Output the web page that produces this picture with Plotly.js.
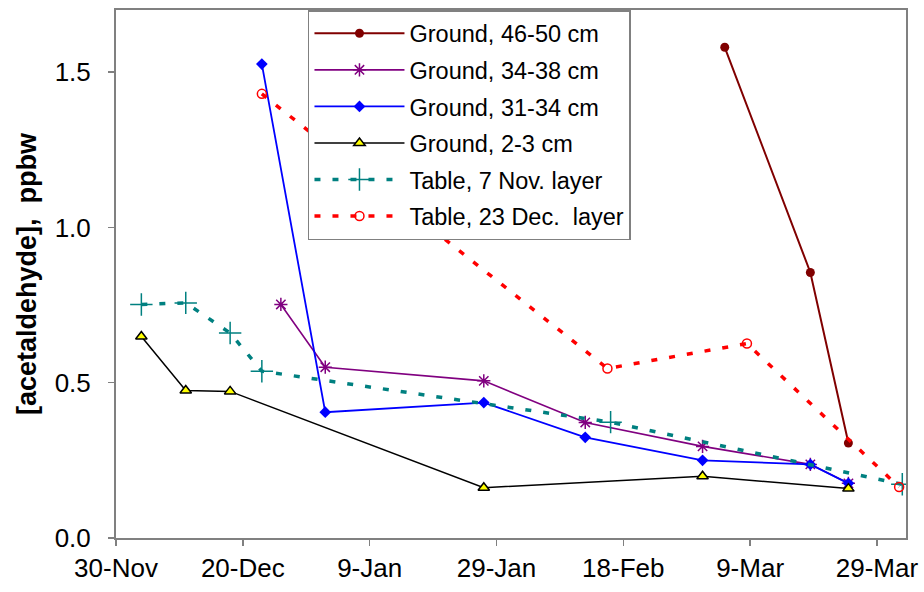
<!DOCTYPE html>
<html><head><meta charset="utf-8">
<script src="https://cdn.plot.ly/plotly-3.0.1.min.js"></script>
<style>html,body{margin:0;padding:0;background:#fff;}</style>
</head><body><div id="chart" style="width:924px;height:592px;"></div>
<script>
// ---- data ----
const seriesNames = ['Ground, 46-50 cm', 'Ground, 34-38 cm', 'Ground, 31-34 cm', 'Ground, 2-3 cm', 'Table, 7 Nov. layer', 'Table, 23 Dec.\u00a0 layer'];

const g4650_x = ['2000-03-05', '2000-03-18 12:00', '2000-03-24 12:00'];
const g4650_y = [1.58, 0.855, 0.306];

const g3438_x = ['1999-12-26', '2000-01-02', '2000-01-27', '2000-02-12', '2000-03-01 12:00', '2000-03-18 12:00', '2000-03-24 12:00'];
const g3438_y = [0.752, 0.550, 0.506, 0.372, 0.295, 0.237, 0.176];

const g3134_x = ['1999-12-23', '2000-01-02', '2000-01-27', '2000-02-12', '2000-03-01 12:00', '2000-03-18 12:00', '2000-03-24 12:00'];
const g3134_y = [1.526, 0.405, 0.436, 0.324, 0.250, 0.237, 0.176];

const g23_x = ['1999-12-04', '1999-12-11', '1999-12-18', '2000-01-27', '2000-03-01 12:00', '2000-03-24 12:00'];
const g23_y = [0.649, 0.475, 0.472, 0.162, 0.199, 0.159];

const t7nov_x = ['1999-12-04', '1999-12-11', '1999-12-18', '1999-12-23', '2000-02-16', '2000-04-02'];
const t7nov_y = [0.752, 0.757, 0.660, 0.537, 0.373, 0.173];

const t23dec_x = ['1999-12-23', '2000-02-15 12:00', '2000-03-08 12:00', '2000-04-01 12:00'];
const t23dec_y = [1.430, 0.546, 0.626, 0.164];

const xRange = ['1999-11-30', '2000-04-02 14:00'];
const xTickStart = '1999-11-30';
const xTickDays = 20;
const yRange = [0, 1.7];
const yTitle = '[acetaldehyde],\u00a0 ppbw';

// ---- traces ----
const FONT = 'Arial, "Liberation Sans", sans-serif';
const traces = [
  {x: g4650_x, y: g4650_y, name: seriesNames[0], legendgroup: 'a', mode: 'lines+markers',
   line: {color: '#800000', width: 2}, marker: {symbol: 'circle', size: 9, color: '#800000'}},
  {x: g3438_x, y: g3438_y, name: seriesNames[1], legendgroup: 'b', mode: 'lines+markers',
   line: {color: '#800080', width: 1.6}, marker: {symbol: 'asterisk-open', size: 11, color: '#800080', line: {color: '#800080', width: 1.5}}},
  {x: g3134_x, y: g3134_y, name: seriesNames[2], legendgroup: 'c', mode: 'lines+markers',
   line: {color: '#0000FF', width: 1.8}, marker: {symbol: 'diamond', size: 9, color: '#0000FF'}},
  {x: g23_x, y: g23_y, name: seriesNames[3], legendgroup: 'd', mode: 'lines+markers',
   line: {color: '#000000', width: 1.5}, marker: {symbol: 'triangle-up', size: 10, color: '#FFFF00', line: {color: '#000000', width: 1.5}}},
  {x: t7nov_x, y: t7nov_y, name: seriesNames[4], legendgroup: 'e', mode: 'lines+markers',
   line: {color: '#008080', width: 3.5, dash: '6px,12px'}, marker: {symbol: 'cross-thin-open', size: 16, color: '#008080', line: {color: '#008080', width: 1.5}}},
  {x: t23dec_x, y: t23dec_y, name: seriesNames[5], legendgroup: 'f', mode: 'lines+markers',
   line: {color: '#FF0000', width: 3.5, dash: '6px,12px'}, marker: {symbol: 'circle-open', size: 9, color: '#FF0000', line: {color: '#FF0000', width: 1.5}}}
];

const layout = {
  width: 924, height: 592,
  margin: {l: 116, r: 18, t: 10, b: 54, pad: 0},
  paper_bgcolor: '#ffffff', plot_bgcolor: '#ffffff',
  font: {family: FONT, color: '#000000', size: 24},
  showlegend: true,
  legend: {
    x: 0.243, y: 1, xanchor: 'left', yanchor: 'top',
    bgcolor: '#ffffff', bordercolor: '#808080', borderwidth: 1.5,
    font: {family: FONT, size: 23.5, color: '#000000'},
    traceorder: 'grouped', tracegroupgap: 3, itemwidth: 90
  },
  xaxis: {
    type: 'date', range: xRange, tick0: xTickStart, dtick: xTickDays * 86400000,
    tickformat: '%-d-%b', showgrid: false, zeroline: false,
    showline: true, mirror: true, linecolor: '#808080', linewidth: 2,
    ticks: 'outside', ticklen: 6, tickwidth: 1.5, tickcolor: '#808080',
    tickfont: {family: FONT, size: 26, color: '#000000'}
  },
  yaxis: {
    range: yRange, tick0: 0, dtick: 0.5, tickformat: '.1f',
    showgrid: false, zeroline: false,
    showline: true, mirror: true, linecolor: '#808080', linewidth: 2,
    ticks: 'outside', ticklen: 6, tickwidth: 1.5, tickcolor: '#808080',
    tickfont: {family: FONT, size: 26, color: '#000000'},
    ticklabelstandoff: 12,
    title: {text: '<b>' + yTitle + '</b>', font: {family: FONT, size: 27, color: '#000000'}, standoff: 10}
  }
};

Plotly.newPlot('chart', traces, layout, {displayModeBar: false, staticPlot: true});
</script></body></html>
